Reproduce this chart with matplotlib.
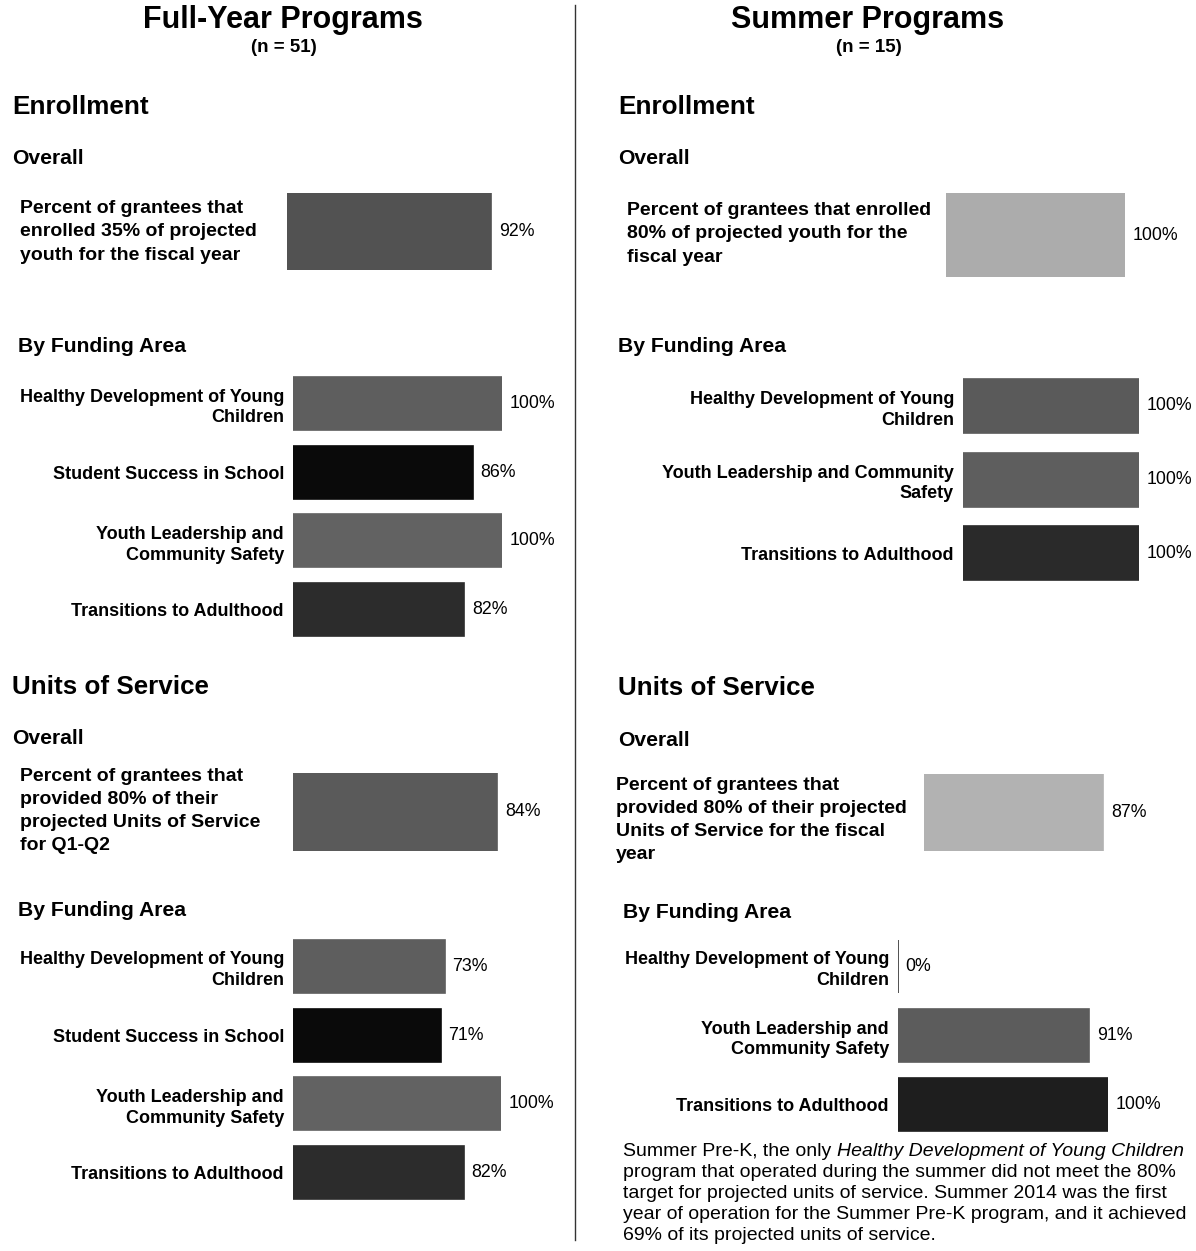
import matplotlib.pyplot as plt
from matplotlib.lines import Line2D

plt.rcParams['font.family'] = ['Liberation Sans', 'DejaVu Sans']

W, H = 1196, 1251

# ---- data ----
funding_full = ["Healthy Development of Young\nChildren", "Student Success in School",
                "Youth Leadership and\nCommunity Safety", "Transitions to Adulthood"]
funding_summer = ["Healthy Development of Young\nChildren",
                  "Youth Leadership and Community\nSafety", "Transitions to Adulthood"]
funding_summer_units = ["Healthy Development of Young\nChildren",
                        "Youth Leadership and\nCommunity Safety", "Transitions to Adulthood"]

full_enroll_overall = [92]
full_enroll_area = [100, 86, 100, 82]
full_units_overall = [84]
full_units_area = [73, 71, 100, 82]

summer_enroll_overall = [100]
summer_enroll_area = [100, 100, 100]
summer_units_overall = [87]
summer_units_area = [0, 91, 100]

full_colors = ["#5e5e5e", "#0a0a0a", "#626262", "#2c2c2c"]
summer_enroll_colors = ["#5a5a5a", "#5e5e5e", "#2a2a2a"]
summer_units_colors = ["#333333", "#5c5c5c", "#1e1e1e"]

footnote_lines = [
    "program that operated during the summer did not meet the 80%",
    "target for projected units of service. Summer 2014 was the first",
    "year of operation for the Summer Pre-K program, and it achieved",
    "69% of its projected units of service.",
]

fig = plt.figure(figsize=(W / 100, H / 100), dpi=100)


def ftext(x, y, s, **kw):
    # place text by pixel position (y from the top)
    kw.setdefault("va", "center")
    return fig.text(x / W, 1 - y / H, s, **kw)


def bar_group(x0, top, pitch, bar_h, full, values, colors, names=None,
              label_size=13, val_size=12.8):
    # one axes per bar block, 0..100 spans `full` pixels
    n = len(values)
    gap = (pitch - bar_h) / 2
    ax_top = top - gap
    ax = fig.add_axes([x0 / W, 1 - (ax_top + pitch * n) / H, full / W, pitch * n / H])
    bars = ax.barh(range(n), values, height=bar_h / pitch, color=colors,
                   edgecolor=colors, linewidth=1.2)
    ax.set_xlim(0, 100)
    ax.set_ylim(n - 0.5, -0.5)
    ax.set_facecolor("none")
    for s in ax.spines.values():
        s.set_visible(False)
    ax.set_xticks([])
    if names is not None:
        ax.set_yticks(range(n), names, fontsize=label_size, fontweight="bold")
        for t in ax.get_yticklabels():
            t.set_linespacing(1.3)
        ax.tick_params(axis="y", length=0, pad=6.5)
    else:
        ax.set_yticks([])
    ax.bar_label(bars, labels=[f"{v}%" for v in values], padding=5.5,
                 fontsize=val_size)
    return ax


# ---- left column: full-year ----
ftext(283, 20, "Full-Year Programs", ha="center", fontsize=22, fontweight="bold")
ftext(284, 47, "(n = 51)", ha="center", fontsize=13.5, fontweight="bold")

ftext(12, 107, "Enrollment", fontsize=18.8, fontweight="bold")
ftext(12, 159, "Overall", fontsize=15.2, fontweight="bold")
ftext(20, 232, "Percent of grantees that\nenrolled 35% of projected\nyouth for the fiscal year",
      fontsize=14, fontweight="bold", linespacing=1.48)
bar_group(287, 193, 77, 77, 222, full_enroll_overall, ["#525252"])

ftext(18, 347, "By Funding Area", fontsize=15.2, fontweight="bold")
bar_group(293, 377, 68.7, 53, 209, full_enroll_area, full_colors, funding_full)

ftext(12, 687, "Units of Service", fontsize=18.7, fontweight="bold")
ftext(12, 739, "Overall", fontsize=15.2, fontweight="bold")
ftext(20, 811, "Percent of grantees that\nprovided 80% of their\nprojected Units of Service\nfor Q1-Q2",
      fontsize=14, fontweight="bold", linespacing=1.48)
bar_group(293, 773, 78, 78, 243, full_units_overall, ["#5a5a5a"])

ftext(18, 911, "By Funding Area", fontsize=15.2, fontweight="bold")
bar_group(293, 940, 68.7, 53, 208, full_units_area, full_colors, funding_full)

# ---- divider ----
fig.add_artist(Line2D([575 / W, 575 / W], [1 - 5 / H, 1 - 1240 / H],
                      color="#333333", linewidth=1))

# ---- right column: summer ----
ftext(868, 20, "Summer Programs", ha="center", fontsize=22, fontweight="bold")
ftext(869, 47, "(n = 15)", ha="center", fontsize=13.5, fontweight="bold")

ftext(618, 107, "Enrollment", fontsize=18.8, fontweight="bold")
ftext(618, 159, "Overall", fontsize=15.2, fontweight="bold")
ftext(627, 234, "Percent of grantees that enrolled\n80% of projected youth for the\nfiscal year",
      fontsize=14, fontweight="bold", linespacing=1.48)
bar_group(946, 193, 84, 84, 179, summer_enroll_overall, ["#acacac"])

ftext(618, 347, "By Funding Area", fontsize=15.2, fontweight="bold")
bar_group(963, 379, 73.5, 54, 176, summer_enroll_area, summer_enroll_colors, funding_summer)

ftext(618, 688, "Units of Service", fontsize=18.7, fontweight="bold")
ftext(618, 740, "Overall", fontsize=15.2, fontweight="bold")
ftext(616, 820, "Percent of grantees that\nprovided 80% of their projected\nUnits of Service for the fiscal\nyear",
      fontsize=14, fontweight="bold", linespacing=1.48)
bar_group(924, 774, 77, 77, 206, summer_units_overall, ["#b2b2b2"])

ftext(623, 912, "By Funding Area", fontsize=15.2, fontweight="bold")
bar_group(898, 940, 69, 53, 210, summer_units_area, summer_units_colors, funding_summer_units)

# footnote, one line at a time; first line has an italic run
line_step = 20.8
t0 = ftext(623, 1152, "Summer Pre-K, the only ", fontsize=14)
fig.add_artist(plt.Annotation("Healthy Development of Young Children", xy=(1, 0),
                              xycoords=t0, va="bottom", ha="left",
                              fontsize=14, style="italic"))
for i, line in enumerate(footnote_lines):
    ftext(623, 1152 + line_step * (i + 1), line, fontsize=14)

fig.savefig("out.png", dpi=100)
